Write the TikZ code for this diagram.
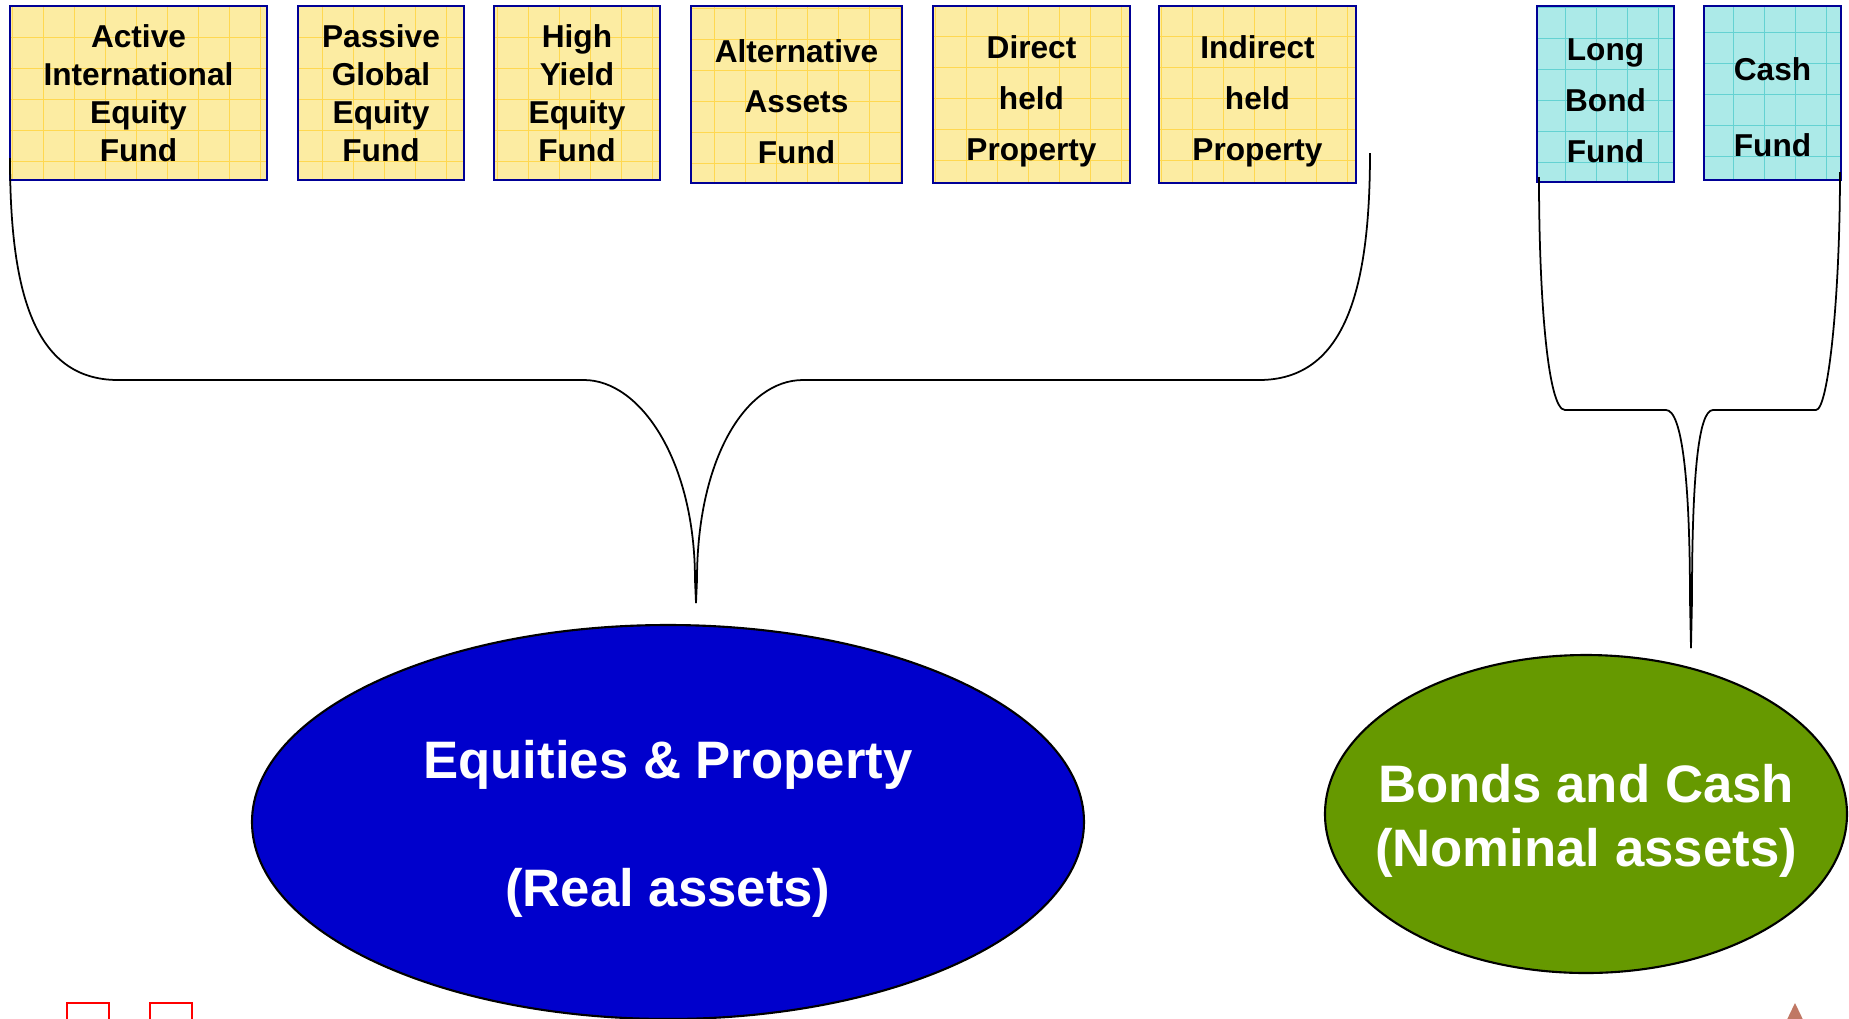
\documentclass[tikz,border=0pt]{standalone}
\usepackage{fontspec}
\setmainfont{Liberation Sans}
\usetikzlibrary{shapes.geometric}

\definecolor{fundyellow}{RGB}{252,236,162}
\definecolor{gridyellow}{RGB}{255,216,80}
\definecolor{fundcyan}{RGB}{172,234,232}
\definecolor{gridcyan}{RGB}{100,210,210}
\definecolor{rimblue}{RGB}{0,0,150}
\definecolor{realblue}{RGB}{0,0,204}
\definecolor{nomgreen}{RGB}{102,153,0}
\definecolor{tipbrown}{RGB}{192,120,100}

% taller first line, so the text sits lower in its shape
\newcommand{\padtop}[1]{\rule{0pt}{#1}}

\tikzset{
  fund/.style={draw=rimblue, line width=0.6pt, minimum height=1.74cm, inner sep=0pt, align=center,
    font=\bfseries\fontsize{9}{10.8}\selectfont,
    path picture={\draw[#1, line width=0.3pt] (path picture bounding box.south west) grid[step=0.31] (path picture bounding box.north east);}},
  realfund/.style={fund=gridyellow, fill=fundyellow},
  nomfund/.style={fund=gridcyan, fill=fundcyan},
  widelines/.style={font=\bfseries\fontsize{9}{14.5}\selectfont},
  assetclass/.style={ellipse, draw, line width=0.6pt, inner sep=0pt, text=white, align=center,
    font=\bfseries\fontsize{15}{18.2}\selectfont},
  brace/.style={line width=0.5pt}
}

\begin{document}
\begin{tikzpicture}
			%%%%% START %%%%%
			\useasboundingbox (0,0) rectangle (18.49,-10.18);
			\clip (0,0) rectangle (18.49,-10.18);
			
			% real asset funds
			\node[realfund, minimum width=2.57cm] (activeint) at (1.385,-0.93) {Active\\International\\Equity\\Fund};
			\node[realfund, minimum width=1.66cm] (passglob) at (3.81,-0.93) {Passive\\Global\\Equity\\Fund};
			\node[realfund, minimum width=1.66cm] (highyield) at (5.77,-0.93) {High\\Yield\\Equity\\Fund};
			\node[realfund, widelines, minimum width=2.11cm, minimum height=1.77cm] (altassets) at (7.965,-0.945) {\padtop{10.6pt}Alternative\\Assets\\Fund};
			\node[realfund, widelines, minimum width=1.97cm, minimum height=1.77cm] (directprop) at (10.315,-0.945) {\padtop{10.6pt}Direct\\held\\Property};
			\node[realfund, widelines, minimum width=1.97cm, minimum height=1.77cm] (indirectprop) at (12.575,-0.945) {\padtop{10.6pt}Indirect\\held\\Property};
			
			% nominal asset funds
			\node[nomfund, widelines, minimum width=1.37cm, minimum height=1.76cm] (longbond) at (16.055,-0.94) {\padtop{10.2pt}Long\\Bond\\Fund};
			\node[nomfund, minimum width=1.37cm] (cashfund) at (17.725,-0.93) {\padtop{14.6pt}Cash\\[10.8pt]Fund};
			
			% the two asset classes
			\node[assetclass, fill=realblue, minimum width=8.32cm, minimum height=3.94cm] (realassets) at (6.68,-8.22) {\padtop{15pt}Equities \& Property\\[18.2pt](Real assets)};
			\node[assetclass, fill=nomgreen, minimum width=5.22cm, minimum height=3.18cm] (nomassets) at (15.86,-8.14) {\padtop{15pt}\makebox[0pt]{Bonds and Cash}\\\makebox[0pt]{(Nominal assets)}};
			
			% braces
			\coordinate (realtip) at (6.96,-6.03);
			\coordinate (nomtip) at (16.91,-6.48);
			
			\draw[brace] (0.10,-1.58) .. controls (0.10,-2.90) and (0.33,-3.80) .. (1.18,-3.80) -- (5.84,-3.80)
			  .. controls (6.40,-3.80) and (6.95,-4.60) .. (6.95,-5.80) -- (realtip);
			\draw[brace] (13.70,-1.53) .. controls (13.70,-2.90) and (13.45,-3.80) .. (12.59,-3.80) -- (8.03,-3.80)
			  .. controls (7.45,-3.80) and (6.97,-4.60) .. (6.97,-5.80) -- (realtip);
			
			\draw[brace] (15.39,-1.77) .. controls (15.39,-3.00) and (15.48,-4.10) .. (15.65,-4.10) -- (16.66,-4.10)
			  .. controls (16.82,-4.10) and (16.90,-4.80) .. (16.90,-6.00) -- (nomtip);
			\draw[brace] (18.40,-1.72) .. controls (18.40,-3.00) and (18.28,-4.10) .. (18.16,-4.10) -- (17.13,-4.10)
			  .. controls (16.98,-4.10) and (16.92,-4.80) .. (16.92,-6.00) -- (nomtip);
			
			% bits along the bottom edge
			\draw[red, line width=0.5pt] (0.67,-10.03) rectangle (1.09,-10.5);
			\draw[red, line width=0.5pt] (1.50,-10.03) rectangle (1.92,-10.5);
			\fill[tipbrown] (17.95,-10.03) -- (17.82,-10.3) -- (18.08,-10.3) -- cycle;
			
			%%%%% END %%%%%
\end{tikzpicture}
\end{document}
